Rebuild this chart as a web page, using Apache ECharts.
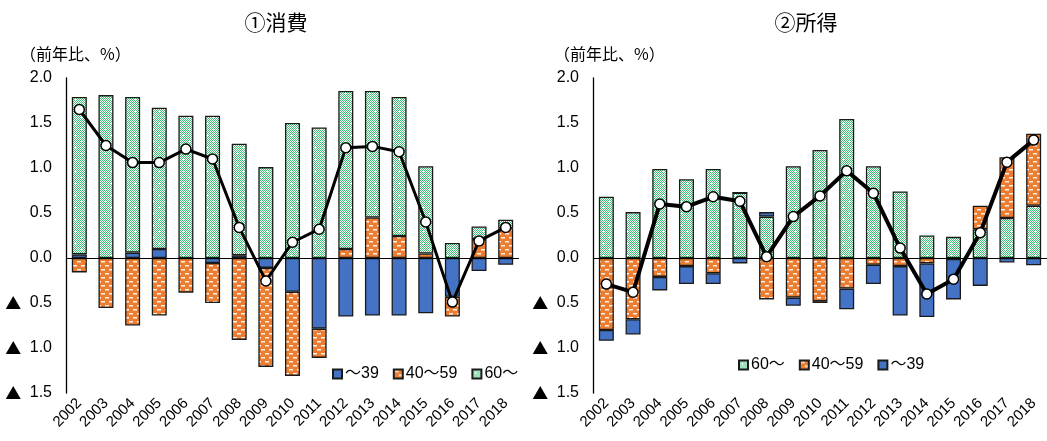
<!DOCTYPE html>
<html>
<head>
<meta charset="utf-8">
<script src="https://cdn.jsdelivr.net/npm/echarts@6/dist/echarts.min.js"></script>
<style>
  html, body { margin: 0; padding: 0; background: #fff; }
  #chart { width: 1047px; height: 441px; }
</style>
</head>
<body>
<div id="chart"></div>
<script>
const years = ['2002', '2003', '2004', '2005', '2006', '2007', '2008', '2009', '2010',
  '2011', '2012', '2013', '2014', '2015', '2016', '2017', '2018'];

// ①消費
const consU39 = [0.04, 0, 0.06, 0.10, 0, -0.055, 0.03, -0.11, -0.375, -0.785, -0.65, -0.64, -0.64, -0.615, -0.43, -0.145, -0.075];
const cons40 = [-0.16, -0.555, -0.75, -0.64, -0.385, -0.445, -0.91, -1.10, -0.935, -0.325, 0.10, 0.45, 0.245, 0.05, -0.22, 0.21, 0.33];
const cons60 = [1.75, 1.81, 1.73, 1.57, 1.58, 1.58, 1.24, 1.01, 1.50, 1.45, 1.755, 1.405, 1.545, 0.97, 0.167, 0.14, 0.095];
const consTotal = [1.65, 1.25, 1.06, 1.06, 1.21, 1.10, 0.34, -0.255, 0.175, 0.32, 1.225, 1.24, 1.18, 0.40, -0.49, 0.19, 0.34];

// ②所得
const inc60 = [0.68, 0.51, 0.99, 0.875, 0.99, 0.725, 0.46, 1.02, 1.20, 1.545, 1.02, 0.74, 0.25, 0.235, 0.32, 0.445, 0.58];
const inc40 = [-0.80, -0.68, -0.21, -0.09, -0.17, 0, -0.46, -0.44, -0.48, -0.34, -0.075, -0.09, -0.06, -0.01, 0.26, 0.675, 0.80];
const incU39 = [-0.12, -0.17, -0.15, -0.20, -0.12, -0.06, 0.05, -0.09, -0.02, -0.23, -0.215, -0.55, -0.595, -0.45, -0.31, -0.05, -0.08];
const incTotal = [-0.29, -0.38, 0.60, 0.57, 0.68, 0.63, 0.015, 0.46, 0.69, 0.97, 0.72, 0.11, -0.40, -0.235, 0.28, 1.065, 1.31];

const FONT = '"Liberation Sans", Arial, "Noto Sans CJK JP", sans-serif';
const CJK = '"Noto Sans CJK JP", sans-serif';

// fill patterns
function greenPattern() {
  const c = document.createElement('canvas');
  c.width = 12; c.height = 12;
  const g = c.getContext('2d');
  g.fillStyle = '#ffffff';
  g.fillRect(0, 0, 12, 12);
  g.fillStyle = '#3fbf74';
  for (let y = 0; y < 12; y++) {
    for (let x = 0; x < 12; x++) {
      if ((x + y) % 2 === 0) g.fillRect(x, y, 1, 1);
    }
  }
  g.fillStyle = '#ffffff';
  [[3, 3], [9, 9]].forEach(([x, y]) => {
    g.fillRect(x - 1, y, 3, 1);
    g.fillRect(x, y - 1, 1, 3);
  });
  return { image: c, repeat: 'repeat' };
}

function orangePattern() {
  const c = document.createElement('canvas');
  c.width = 8; c.height = 8;
  const g = c.getContext('2d');
  g.fillStyle = '#ed7d31';
  g.fillRect(0, 0, 8, 8);
  g.fillStyle = 'rgba(255,255,255,0.9)';
  g.fillRect(1, 1, 4, 1.5);
  g.fillRect(5, 5, 3, 1.5);
  g.fillRect(0, 5, 1, 1.5);
  return { image: c, repeat: 'repeat' };
}

const colU39 = '#4472c4';
const col40 = orangePattern();
const col60 = greenPattern();

const chart = echarts.init(document.getElementById('chart'));

function barSeries(name, data, color, idx) {
  return {
    name,
    type: 'bar',
    stack: 's' + idx,
    xAxisIndex: idx,
    yAxisIndex: idx,
    data,
    barWidth: 15,
    itemStyle: { color, borderColor: '#1a1a1a', borderWidth: 1.3 }
  };
}

function lineSeries(data, idx, width) {
  return {
    name: '合計' + idx,
    type: 'line',
    xAxisIndex: idx,
    yAxisIndex: idx,
    data,
    z: 10,
    symbol: 'circle',
    symbolSize: 10,
    lineStyle: { color: '#000', width },
    itemStyle: { color: '#fff', borderColor: '#000', borderWidth: 1.5 },
    markLine: {
      silent: true,
      symbol: 'none',
      label: { show: false },
      lineStyle: { color: '#000', width: 1, type: 'solid' },
      data: [{ yAxis: 0 }]
    }
  };
}

const xAxisBase = {
  type: 'category',
  data: years,
  axisLine: { show: false },
  axisTick: { show: false },
  axisLabel: { rotate: 45, color: '#000', fontSize: 15, fontFamily: FONT, margin: 8, interval: 0 }
};

const yAxisBase = {
  type: 'value',
  min: -1.5,
  max: 2.0,
  interval: 0.5,
  axisLine: { show: true, lineStyle: { color: '#000', width: 1.3 } },
  axisTick: { show: false },
  splitLine: { show: false },
  axisLabel: {
    color: '#000',
    fontSize: 16,
    fontFamily: FONT,
    margin: 14,
    formatter: v => v < 0 ? '{t|▲} ' + (-v).toFixed(1) : v.toFixed(1),
    rich: {
      t: { fontFamily: CJK, fontSize: 16, color: '#000', padding: [0, 4, 0, 0] }
    }
  }
};

const legendBase = {
  orient: 'horizontal',
  itemWidth: 9,
  itemHeight: 9,
  itemGap: 14,
  icon: 'rect',
  textStyle: { color: '#000', fontSize: 16, fontFamily: FONT, padding: [0, 0, 0, -2] }
};

const nameStyle = { fontSize: 16, fontWeight: 'normal', color: '#000', fontFamily: CJK };
const titleStyle = { fontSize: 21, fontWeight: 'normal', color: '#000', fontFamily: FONT };

chart.setOption({
  animation: false,
  backgroundColor: '#fff',
  title: [
    { text: '①消費', left: 271, top: 9, textAlign: 'center', textStyle: titleStyle },
    { text: '②所得', left: 801, top: 9, textAlign: 'center', textStyle: titleStyle },
    { text: '（前年比、%）', left: 15, top: 41, textStyle: nameStyle },
    { text: '（前年比、%）', left: 549, top: 41, textStyle: nameStyle }
  ],
  legend: [
    { ...legendBase, left: 327, top: 361, data: ['～39', '40～59', '60～'] },
    { ...legendBase, left: 733, top: 352, data: ['60～', '40～59', '～39'] }
  ],
  grid: [
    { left: 66, top: 78, width: 453, height: 315 },
    { left: 593, top: 78, width: 462, height: 315 }
  ],
  xAxis: [
    { ...xAxisBase, gridIndex: 0 },
    { ...xAxisBase, gridIndex: 1 }
  ],
  yAxis: [
    { ...yAxisBase, gridIndex: 0 },
    { ...yAxisBase, gridIndex: 1 }
  ],
  series: [
    barSeries('～39', consU39, colU39, 0),
    barSeries('40～59', cons40, col40, 0),
    barSeries('60～', cons60, col60, 0),
    lineSeries(consTotal, 0, 3),
    barSeries('60～', inc60, col60, 1),
    barSeries('40～59', inc40, col40, 1),
    barSeries('～39', incU39, colU39, 1),
    lineSeries(incTotal, 1, 4)
  ]
});
</script>
</body>
</html>
